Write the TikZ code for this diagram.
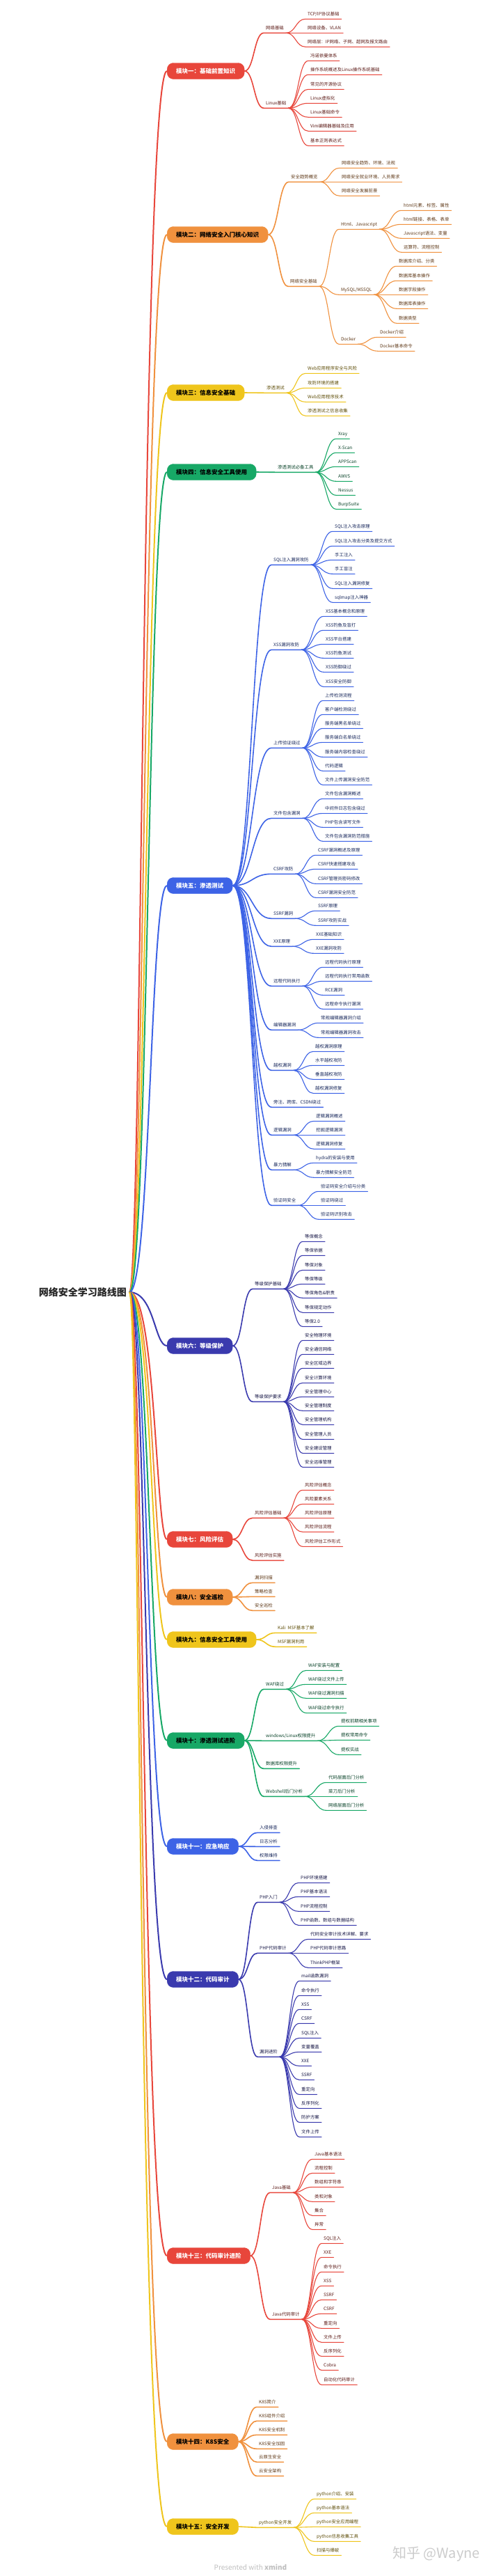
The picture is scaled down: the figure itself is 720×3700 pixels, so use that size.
\documentclass[tikz,border=0pt]{standalone}
\usepackage{fontspec}
\newfontfamily\cjk{Noto Sans CJK SC}
\usetikzlibrary{calc}
\definecolor{cR}{HTML}{E8463B}
\definecolor{cO}{HTML}{F0913E}
\definecolor{cY}{HTML}{EFC51C}
\definecolor{cG}{HTML}{17A866}
\definecolor{cB}{HTML}{3D63E6}
\definecolor{cI}{HTML}{3A3AAE}
\tikzset{
 tnode/.style={anchor=south west, inner xsep=3pt, inner ysep=3.2pt, text height=5.3pt, text depth=1.2pt, font=\cjk\fontsize{6.4}{7}\selectfont},
 stgbox/.style={anchor=west, rounded corners=9pt, minimum height=23pt, inner xsep=13pt, inner ysep=0pt, font=\cjk\bfseries\fontsize{8.5}{10}\selectfont},
 rootnode/.style={anchor=east, inner sep=4pt, font=\cjk\bfseries\fontsize{14}{16}\selectfont, text=black!85},
 wmark/.style={inner sep=0pt, font=\cjk\fontsize{20}{22}\selectfont, text=black!20},
}
% leaf: name, parent anchor, x, y, colour, text
\newcommand\tn[6]{%
 \node[tnode, text=#5!40!black] (#1) at ({#3-3},{#4+7.3}) {#6};
 \draw[#5, line width=1.1pt, line cap=round] let \p1=(#2), \p2=(#1.south west) in (\p1) .. controls ({(\x1+\x2)/2},\y1) and ({(\x1+\x2)/2},\y2) .. (\p2) -- (#1.south east);
}
% second level: name, parent anchor, x, y, colour, text
\newcommand\tnB[6]{%
 \node[tnode, text=#5!40!black] (#1) at ({#3-3},{#4+7.3}) {#6};
 \draw[#5, line width=1.6pt, line cap=round] let \p1=(#2), \p2=(#1.south west) in (\p1) .. controls ({(\x1+\x2)/2},\y1) and ({(\x1+\x2)/2},\y2) .. (\p2) -- (#1.south east);
}
% stage: name, y, fill, text colour, text, bend x
\newcommand\stage[6]{%
 \node[stgbox, fill=#3, draw=#3, text=#4] (#1) at (240,#2) {#5};
 \draw[#3, line width=2pt] let \p1=(root.east), \p2=(#1.west) in (\p1) .. controls (#6pt,\y1) and (#6pt,\y2) .. (\p2);
}
\begin{document}
\begin{tikzpicture}[x=1pt,y=-1pt]
\fill[white] (0,0) rectangle (720,3700);
\useasboundingbox (0,0) rectangle (720,3700);

\node[rootnode] (root) at (186,1856) {网络安全学习路线图};

% ---------- stage 1
\stage{s1}{102}{cR}{white}{模块一：基础前置知识}{204}
\tnB{s1a}{s1.east}{382}{40}{cR}{网络基础}
\tn{s1a1}{s1a.south east}{442}{20}{cR}{TCP/IP协议基础}
\tn{s1a2}{s1a.south east}{442}{40}{cR}{网络设备、VLAN}
\tn{s1a3}{s1a.south east}{442}{60}{cR}{网络层：IP网络、子网、超网及报文路由}
\tnB{s1b}{s1.east}{382}{148}{cR}{Linux基础}
\tn{s1b1}{s1b.south east}{446}{80}{cR}{冯诺依曼体系}
\tn{s1b2}{s1b.south east}{446}{100}{cR}{操作系统概述及Linux操作系统基础}
\tn{s1b3}{s1b.south east}{446}{121}{cR}{常见的开源协议}
\tn{s1b4}{s1b.south east}{446}{141}{cR}{Linux虚拟化}
\tn{s1b5}{s1b.south east}{446}{161}{cR}{Linux基础命令}
\tn{s1b6}{s1b.south east}{446}{181}{cR}{Vim编辑器基础及应用}
\tn{s1b7}{s1b.south east}{446}{202}{cR}{基本正则表达式}

% ---------- stage 2
\stage{s2}{337}{cO}{black}{模块二：网络安全入门核心知识}{207}
\tnB{s2a}{s2.east}{418}{254}{cO}{安全趋势概览}
\tn{s2a1}{s2a.south east}{491}{234}{cO}{网络安全趋势、环境、法规}
\tn{s2a2}{s2a.south east}{491}{254}{cO}{网络安全就业环境、人员需求}
\tn{s2a3}{s2a.south east}{491}{274}{cO}{网络安全发展前景}
\tnB{s2b}{s2.east}{417}{404}{cO}{网络安全基础}
\tn{s2b1}{s2b.south east}{490}{322}{cO}{Html、Javascript}
\tn{s2b1a}{s2b1.south east}{580}{295}{cO}{html元素、标签、属性}
\tn{s2b1b}{s2b1.south east}{580}{315}{cO}{html链接、表格、表单}
\tn{s2b1c}{s2b1.south east}{580}{335}{cO}{Javascript语法、变量}
\tn{s2b1d}{s2b1.south east}{580}{355}{cO}{运算符、流程控制}
\tn{s2b2}{s2b.south east}{490}{416}{cO}{MySQL/MSSQL}
\tn{s2b2a}{s2b2.south east}{573}{375}{cO}{数据库介绍、分类}
\tn{s2b2b}{s2b2.south east}{573}{396}{cO}{数据库基本操作}
\tn{s2b2c}{s2b2.south east}{573}{416}{cO}{数据字段操作}
\tn{s2b2d}{s2b2.south east}{573}{436}{cO}{数据库表操作}
\tn{s2b2e}{s2b2.south east}{573}{457}{cO}{数据类型}
\tn{s2b3}{s2b.south east}{490}{487}{cO}{Docker}
\tn{s2b3a}{s2b3.south east}{546}{477}{cO}{Docker介绍}
\tn{s2b3b}{s2b3.south east}{546}{497}{cO}{Docker基本命令}

% ---------- stage 3
\stage{s3}{564}{cY}{black}{模块三：信息安全基础}{210}
\tnB{s3a}{s3.east}{383}{557}{cY}{渗透测试}
\tn{s3a1}{s3a.south east}{442}{529}{cY}{Web应用程序安全与风险}
\tn{s3a2}{s3a.south east}{442}{550}{cY}{攻防环境的搭建}
\tn{s3a3}{s3a.south east}{442}{570}{cY}{Web应用程序技术}
\tn{s3a4}{s3a.south east}{442}{590}{cY}{渗透测试之信息收集}

% ---------- stage 4
\stage{s4}{678}{cG}{black}{模块四：信息安全工具使用}{213}
\tnB{s4a}{s4.east}{399}{671}{cG}{渗透测试必备工具}
\tn{s4a1}{s4a.south east}{486}{623}{cG}{Xray}
\tn{s4a2}{s4a.south east}{486}{643}{cG}{X-Scan}
\tn{s4a3}{s4a.south east}{486}{663}{cG}{APPScan}
\tn{s4a4}{s4a.south east}{486}{684}{cG}{AWVS}
\tn{s4a5}{s4a.south east}{486}{704}{cG}{Nessus}
\tn{s4a6}{s4a.south east}{486}{724}{cG}{BurpSuite}

% ---------- stage 5
\stage{s5}{1272}{cB}{white}{模块五：渗透测试}{216}
\tnB{s5a}{s5.east}{393}{804}{cB}{SQL注入漏洞攻防}
\tn{s5a1}{s5a.south east}{481}{756}{cB}{SQL注入攻击原理}
\tn{s5a2}{s5a.south east}{481}{777}{cB}{SQL注入攻击分类及提交方式}
\tn{s5a3}{s5a.south east}{481}{797}{cB}{手工注入}
\tn{s5a4}{s5a.south east}{481}{817}{cB}{手工盲注}
\tn{s5a5}{s5a.south east}{481}{838}{cB}{SQL注入漏洞修复}
\tn{s5a6}{s5a.south east}{481}{858}{cB}{sqlmap注入神器}
\tnB{s5b}{s5.east}{393}{926}{cB}{XSS漏洞攻防}
\tn{s5b1}{s5b.south east}{468}{878}{cB}{XSS基本概念和原理}
\tn{s5b2}{s5b.south east}{468}{898}{cB}{XSS钓鱼及盲打}
\tn{s5b3}{s5b.south east}{468}{918}{cB}{XSS平台搭建}
\tn{s5b4}{s5b.south east}{468}{938}{cB}{XSS钓鱼测试}
\tn{s5b5}{s5b.south east}{468}{958}{cB}{XSS防御绕过}
\tn{s5b6}{s5b.south east}{468}{979}{cB}{XSS安全防御}
\tnB{s5c}{s5.east}{393}{1067}{cB}{上传验证绕过}
\tn{s5c1}{s5c.south east}{467}{999}{cB}{上传检测流程}
\tn{s5c2}{s5c.south east}{467}{1019}{cB}{客户端检测绕过}
\tn{s5c3}{s5c.south east}{467}{1039}{cB}{服务端黑名单绕过}
\tn{s5c4}{s5c.south east}{467}{1059}{cB}{服务端白名单绕过}
\tn{s5c5}{s5c.south east}{467}{1080}{cB}{服务端内容检查绕过}
\tn{s5c6}{s5c.south east}{467}{1100}{cB}{代码逻辑}
\tn{s5c7}{s5c.south east}{467}{1120}{cB}{文件上传漏洞安全防范}
\tnB{s5d}{s5.east}{393}{1168}{cB}{文件包含漏洞}
\tn{s5d1}{s5d.south east}{467}{1140}{cB}{文件包含漏洞概述}
\tn{s5d2}{s5d.south east}{467}{1161}{cB}{中间件日志包含绕过}
\tn{s5d3}{s5d.south east}{467}{1181}{cB}{PHP包含读写文件}
\tn{s5d4}{s5d.south east}{467}{1201}{cB}{文件包含漏洞防范措施}
\tnB{s5e}{s5.east}{393}{1248}{cB}{CSRF攻防}
\tn{s5e1}{s5e.south east}{457}{1221}{cB}{CSRF漏洞概述及原理}
\tn{s5e2}{s5e.south east}{457}{1241}{cB}{CSRF快速搭建攻击}
\tn{s5e3}{s5e.south east}{457}{1262}{cB}{CSRF管理员密码修改}
\tn{s5e4}{s5e.south east}{457}{1282}{cB}{CSRF漏洞安全防范}
\tnB{s5f}{s5.east}{393}{1312}{cB}{SSRF漏洞}
\tn{s5f1}{s5f.south east}{457}{1301}{cB}{SSRF原理}
\tn{s5f2}{s5f.south east}{457}{1322}{cB}{SSRF攻防实战}
\tnB{s5g}{s5.east}{393}{1352}{cB}{XXE原理}
\tn{s5g1}{s5g.south east}{454}{1342}{cB}{XXE基础知识}
\tn{s5g2}{s5g.south east}{454}{1362}{cB}{XXE漏洞攻防}
\tnB{s5h}{s5.east}{393}{1409}{cB}{远程代码执行}
\tn{s5h1}{s5h.south east}{467}{1382}{cB}{远程代码执行原理}
\tn{s5h2}{s5h.south east}{467}{1402}{cB}{远程代码执行常用函数}
\tn{s5h3}{s5h.south east}{467}{1422}{cB}{RCE漏洞}
\tn{s5h4}{s5h.south east}{467}{1442}{cB}{远程命令执行漏洞}
\tnB{s5i}{s5.east}{393}{1472}{cB}{编辑器漏洞}
\tn{s5i1}{s5i.south east}{461}{1462}{cB}{常规编辑器漏洞介绍}
\tn{s5i2}{s5i.south east}{461}{1483}{cB}{常规编辑器漏洞攻击}
\tnB{s5j}{s5.east}{393}{1530}{cB}{越权漏洞}
\tn{s5j1}{s5j.south east}{453}{1503}{cB}{越权漏洞原理}
\tn{s5j2}{s5j.south east}{453}{1523}{cB}{水平越权攻防}
\tn{s5j3}{s5j.south east}{453}{1543}{cB}{垂直越权攻防}
\tn{s5j4}{s5j.south east}{453}{1563}{cB}{越权漏洞修复}
\tnB{s5k}{s5.east}{393}{1583}{cB}{旁注、跨库、CSDN绕过}
\tnB{s5l}{s5.east}{393}{1623}{cB}{逻辑漏洞}
\tn{s5l1}{s5l.south east}{454}{1603}{cB}{逻辑漏洞概述}
\tn{s5l2}{s5l.south east}{454}{1623}{cB}{挖掘逻辑漏洞}
\tn{s5l3}{s5l.south east}{454}{1643}{cB}{逻辑漏洞修复}
\tnB{s5m}{s5.east}{393}{1673}{cB}{暴力猜解}
\tn{s5m1}{s5m.south east}{454}{1663}{cB}{hydra的安装与使用}
\tn{s5m2}{s5m.south east}{454}{1684}{cB}{暴力猜解安全防范}
\tnB{s5n}{s5.east}{393}{1724}{cB}{验证码安全}
\tn{s5n1}{s5n.south east}{461}{1704}{cB}{验证码安全介绍与分类}
\tn{s5n2}{s5n.south east}{461}{1724}{cB}{验证码绕过}
\tn{s5n3}{s5n.south east}{461}{1744}{cB}{验证码识别攻击}

% ---------- stage 6
\stage{s6}{1933}{cI}{white}{模块六：等级保护}{222}
\tnB{s6a}{s6.east}{366}{1844}{cI}{等级保护基础}
\tn{s6a1}{s6a.south east}{438}{1776}{cI}{等保概念}
\tn{s6a2}{s6a.south east}{438}{1796}{cI}{等保依据}
\tn{s6a3}{s6a.south east}{438}{1817}{cI}{等保对象}
\tn{s6a4}{s6a.south east}{438}{1837}{cI}{等保等级}
\tn{s6a5}{s6a.south east}{438}{1857}{cI}{等保角色\&职责}
\tn{s6a6}{s6a.south east}{438}{1878}{cI}{等保规定动作}
\tn{s6a7}{s6a.south east}{438}{1898}{cI}{等保2.0}
\tnB{s6b}{s6.east}{366}{2006}{cI}{等级保护要求}
\tn{s6b1}{s6b.south east}{438}{1918}{cI}{安全物理环境}
\tn{s6b2}{s6b.south east}{438}{1938}{cI}{安全通信网络}
\tn{s6b3}{s6b.south east}{438}{1958}{cI}{安全区域边界}
\tn{s6b4}{s6b.south east}{438}{1979}{cI}{安全计算环境}
\tn{s6b5}{s6b.south east}{438}{1999}{cI}{安全管理中心}
\tn{s6b6}{s6b.south east}{438}{2019}{cI}{安全管理制度}
\tn{s6b7}{s6b.south east}{438}{2039}{cI}{安全管理机构}
\tn{s6b8}{s6b.south east}{438}{2060}{cI}{安全管理人员}
\tn{s6b9}{s6b.south east}{438}{2080}{cI}{安全建设管理}
\tn{s6b10}{s6b.south east}{438}{2100}{cI}{安全运维管理}

% ---------- stage 7
\stage{s7}{2211}{cR}{white}{模块七：风险评估}{224}
\tnB{s7a}{s7.east}{366}{2173}{cR}{风险评估基础}
\tn{s7a1}{s7a.south east}{438}{2133}{cR}{风险评估概念}
\tn{s7a2}{s7a.south east}{438}{2153}{cR}{风险要素关系}
\tn{s7a3}{s7a.south east}{438}{2173}{cR}{风险评估原理}
\tn{s7a4}{s7a.south east}{438}{2193}{cR}{风险评估流程}
\tn{s7a5}{s7a.south east}{438}{2214}{cR}{风险评估工作形式}
\tnB{s7b}{s7.east}{366}{2234}{cR}{风险评估实施}

% ---------- stage 8
\stage{s8}{2294}{cO}{black}{模块八：安全巡检}{221}
\tnB{s8a}{s8.east}{366}{2266}{cO}{漏洞扫描}
\tnB{s8b}{s8.east}{366}{2286}{cO}{策略检查}
\tnB{s8c}{s8.east}{366}{2306}{cO}{安全巡检}

% ---------- stage 9
\stage{s9}{2355}{cY}{black}{模块九：信息安全工具使用}{218}
\tnB{s9a}{s9.east}{399}{2338}{cY}{Kali\ \ MSF基本了解}
\tnB{s9b}{s9.east}{399}{2358}{cY}{MSF漏洞利用}

% ---------- stage 10
\stage{s10}{2500}{cG}{black}{模块十：渗透测试进阶}{215}
\tnB{s10a}{s10.east}{382}{2419}{cG}{WAF绕过}
\tn{s10a1}{s10a.south east}{443}{2392}{cG}{WAF安装与配置}
\tn{s10a2}{s10a.south east}{443}{2412}{cG}{WAF绕过文件上传}
\tn{s10a3}{s10a.south east}{443}{2432}{cG}{WAF绕过漏洞扫描}
\tn{s10a4}{s10a.south east}{443}{2453}{cG}{WAF绕过命令执行}
\tnB{s10b}{s10.east}{382}{2493}{cG}{windows/Linux权限提升}
\tn{s10b1}{s10b.south east}{490}{2472}{cG}{提权前期相关事项}
\tn{s10b2}{s10b.south east}{490}{2492}{cG}{提权常用命令}
\tn{s10b3}{s10b.south east}{490}{2513}{cG}{提权实战}
\tnB{s10c}{s10.east}{382}{2533}{cG}{数据库权限提升}
\tnB{s10d}{s10.east}{382}{2573}{cG}{Webshell后门分析}
\tn{s10d1}{s10d.south east}{472}{2553}{cG}{代码层面后门分析}
\tn{s10d2}{s10d.south east}{472}{2573}{cG}{菜刀后门分析}
\tn{s10d3}{s10d.south east}{472}{2593}{cG}{网络层面后门分析}

% ---------- stage 11
\stage{s11}{2652}{cB}{white}{模块十一：应急响应}{212}
\tnB{s11a}{s11.east}{373}{2625}{cB}{入侵排查}
\tnB{s11b}{s11.east}{373}{2645}{cB}{日志分析}
\tnB{s11c}{s11.east}{373}{2665}{cB}{权限维持}

% ---------- stage 12
\stage{s12}{2843}{cI}{white}{模块十二：代码审计}{209}
\tnB{s12a}{s12.east}{373}{2725}{cI}{PHP入门}
\tn{s12a1}{s12a.south east}{432}{2697}{cI}{PHP环境搭建}
\tn{s12a2}{s12a.south east}{432}{2717}{cI}{PHP基本语法}
\tn{s12a3}{s12a.south east}{432}{2738}{cI}{PHP流程控制}
\tn{s12a4}{s12a.south east}{432}{2758}{cI}{PHP函数、数组与数据结构}
\tnB{s12b}{s12.east}{373}{2798}{cI}{PHP代码审计}
\tn{s12b1}{s12b.south east}{446}{2778}{cI}{代码安全审计技术详解、要求}
\tn{s12b2}{s12b.south east}{446}{2798}{cI}{PHP代码审计思路}
\tn{s12b3}{s12b.south east}{446}{2819}{cI}{ThinkPHP框架}
\tnB{s12c}{s12.east}{373}{2947}{cI}{漏洞进阶}
\tn{s12c1}{s12c.south east}{433}{2838}{cI}{mail函数漏洞}
\tn{s12c2}{s12c.south east}{433}{2859}{cI}{命令执行}
\tn{s12c3}{s12c.south east}{433}{2879}{cI}{XSS}
\tn{s12c4}{s12c.south east}{433}{2899}{cI}{CSRF}
\tn{s12c5}{s12c.south east}{433}{2920}{cI}{SQL注入}
\tn{s12c6}{s12c.south east}{433}{2940}{cI}{变量覆盖}
\tn{s12c7}{s12c.south east}{433}{2960}{cI}{XXE}
\tn{s12c8}{s12c.south east}{433}{2980}{cI}{SSRF}
\tn{s12c9}{s12c.south east}{433}{3001}{cI}{重定向}
\tn{s12c10}{s12c.south east}{433}{3021}{cI}{反序列化}
\tn{s12c11}{s12c.south east}{433}{3041}{cI}{防护方案}
\tn{s12c12}{s12c.south east}{433}{3062}{cI}{文件上传}

% ---------- stage 13
\stage{s13}{3240}{cR}{white}{模块十三：代码审计进阶}{206}
\tnB{s13a}{s13.east}{391}{3142}{cR}{Java基础}
\tn{s13a1}{s13a.south east}{452}{3094}{cR}{Java基本语法}
\tn{s13a2}{s13a.south east}{452}{3114}{cR}{流程控制}
\tn{s13a3}{s13a.south east}{452}{3134}{cR}{数组和字符串}
\tn{s13a4}{s13a.south east}{452}{3155}{cR}{类和对象}
\tn{s13a5}{s13a.south east}{452}{3175}{cR}{集合}
\tn{s13a6}{s13a.south east}{452}{3195}{cR}{异常}
\tnB{s13b}{s13.east}{391}{3324}{cR}{Java代码审计}
\tn{s13b1}{s13b.south east}{465}{3215}{cR}{SQL注入}
\tn{s13b2}{s13b.south east}{465}{3235}{cR}{XXE}
\tn{s13b3}{s13b.south east}{465}{3256}{cR}{命令执行}
\tn{s13b4}{s13b.south east}{465}{3276}{cR}{XSS}
\tn{s13b5}{s13b.south east}{465}{3296}{cR}{SSRF}
\tn{s13b6}{s13b.south east}{465}{3316}{cR}{CSRF}
\tn{s13b7}{s13b.south east}{465}{3337}{cR}{重定向}
\tn{s13b8}{s13b.south east}{465}{3357}{cR}{文件上传}
\tn{s13b9}{s13b.south east}{465}{3377}{cR}{反序列化}
\tn{s13b10}{s13b.south east}{465}{3397}{cR}{Cobra}
\tn{s13b11}{s13b.south east}{465}{3418}{cR}{自动化代码审计}

% ---------- stage 14
\stage{s14}{3507}{cO}{black}{模块十四：K8S安全}{203}
\tnB{s14a}{s14.east}{372}{3450}{cO}{K8S简介}
\tnB{s14b}{s14.east}{372}{3470}{cO}{K8S组件介绍}
\tnB{s14c}{s14.east}{372}{3490}{cO}{K8S安全机制}
\tnB{s14d}{s14.east}{372}{3510}{cO}{K8S安全加固}
\tnB{s14e}{s14.east}{372}{3529}{cO}{云原生安全}
\tnB{s14f}{s14.east}{372}{3549}{cO}{云安全架构}

% ---------- stage 15
\stage{s15}{3629}{cY}{black}{模块十五：安全开发}{200}
\tnB{s15a}{s15.east}{372}{3623}{cY}{python安全开发}
\tn{s15a1}{s15a.south east}{455}{3582}{cY}{python介绍、安装}
\tn{s15a2}{s15a.south east}{455}{3602}{cY}{python基本语法}
\tn{s15a3}{s15a.south east}{455}{3622}{cY}{python安全应用编程}
\tn{s15a4}{s15a.south east}{455}{3643}{cY}{python信息收集工具}
\tn{s15a5}{s15a.south east}{455}{3663}{cY}{扫描与爆破}

% ---------- watermarks
\node[wmark, anchor=west] (zhihu) at (564,3668) {知乎 @Wayne};
\node[inner sep=0pt, font=\cjk\fontsize{10}{12}\selectfont, text=black!25] (xmind) at (360,3687) {Presented with \textbf{xmind}};
\end{tikzpicture}
\end{document}
